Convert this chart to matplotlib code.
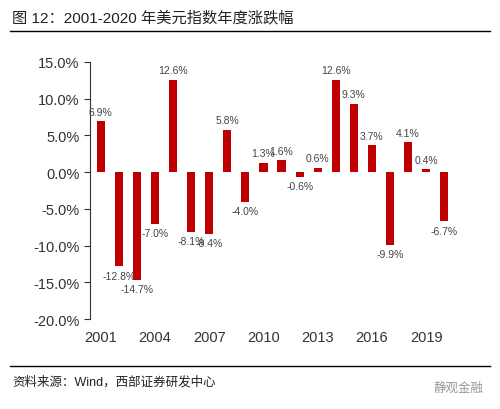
import matplotlib
matplotlib.use("Agg")
import matplotlib.pyplot as plt
import numpy as np

plt.rcParams['font.family'] = ['Liberation Sans', 'Noto Sans CJK SC', 'DejaVu Sans']

years = list(range(2001, 2021))
values = [6.9, -12.8, -14.7, -7.0, 12.6, -8.1, -8.4, 5.8, -4.0, 1.3, 1.6, -0.6, 0.6, 12.6, 9.3, 3.7, -9.9, 4.1, 0.4, -6.7]
yticks = [15, 10, 5, 0, -5, -10, -15, -20]
xticks = [2001, 2004, 2007, 2010, 2013, 2016, 2019]

W, H = 500, 410
fig = plt.figure(figsize=(W/100, H/100), dpi=100)
ax = fig.add_axes([90/W, 1-320/H, 365/W, 257/H])
ax.bar(years, values, width=0.45, color='#C00000')
ax.set_xlim(2000.4, 2020.6)
ax.set_ylim(-20, 15)
ax.set_yticks(yticks)
ax.set_yticklabels([f"{v:.1f}%" for v in yticks], fontsize=10.5, color='#333333')
ax.set_xticks(xticks)
ax.set_xticklabels([str(x) for x in xticks], fontsize=10.5, color='#333333')
for s in ['top', 'right', 'bottom']:
    ax.spines[s].set_visible(False)
ax.spines['left'].set_color('#333333')
ax.tick_params(axis='x', length=0, pad=8)
ax.tick_params(axis='y', length=4, direction='out', color='#333333')
for x, v in zip(years, values):
    off = 0.6 if v >= 0 else -0.6
    ax.text(x, v + off, f"{v:.1f}%", ha='center', va='bottom' if v >= 0 else 'top',
            fontsize=7.5, color='#444444')

fig.text(12/W, 1-18/H, "图 12：2001-2020 年美元指数年度涨跌幅", fontsize=11, va='center', color='#222222')
fig.add_artist(plt.Line2D([10/W, 490/W], [1-32/H, 1-32/H], color='black', lw=1))
fig.add_artist(plt.Line2D([10/W, 490/W], [1-367/H, 1-367/H], color='black', lw=1))
fig.text(12/W, 1-382/H, "资料来源：Wind，西部证券研发中心", fontsize=9, va='center', color='#222222')
fig.text(484/W, 1-389/H, "静观金融", fontsize=9, va='center', ha='right', color='#999999')
fig.savefig("out.png", dpi=100)
